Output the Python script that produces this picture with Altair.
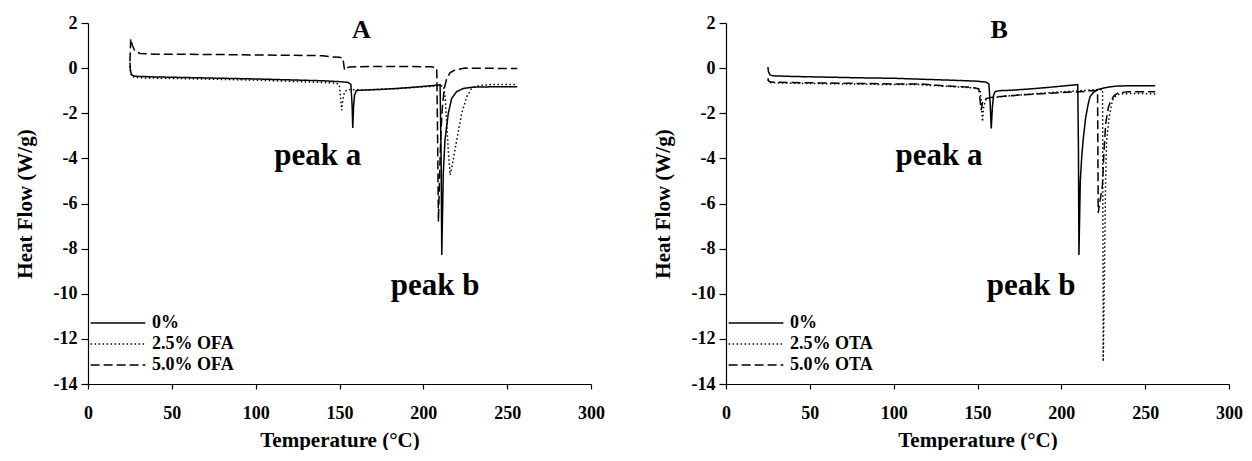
import altair as alt
import pandas as pd

FONT = "Liberation Serif"

# ---------------- Panel A (OFA) ----------------
a_names = ["0%", "2.5% OFA", "5.0% OFA"]

a0_t = [25.0, 25.3, 26.0, 28.0, 40, 60, 80, 100, 120, 140, 150, 155, 156.8, 157.5, 157.9, 158.4,
        159.0, 160.0, 162, 166, 175, 185, 195, 205, 210.0, 210.6, 211.0, 211.9, 212.9, 214.9,
        216.9, 219.9, 223.9, 230, 240, 256]
a0_hf = [0.25, -0.1, -0.3, -0.36, -0.39, -0.42, -0.45, -0.48, -0.52, -0.56, -0.6, -0.63, -0.72, -1.6, -2.65, -1.7,
         -1.2, -1.0, -0.98, -0.97, -0.94, -0.9, -0.84, -0.78, -0.74, -4.0, -8.28, -4.66, -3.19, -2.0,
         -1.34, -1.04, -0.9, -0.84, -0.83, -0.82]

a1_t = [25.0, 25.4, 26.2, 30, 60, 100, 134, 148, 149.9, 150.6, 151.3, 152.0, 153.0, 155, 165, 185, 200,
        210, 212, 213, 214, 215, 216, 217.5, 219.9, 222.9, 225.9, 228.8, 233, 240, 256]
a1_hf = [0.1, -0.2, -0.38, -0.43, -0.47, -0.53, -0.62, -0.66, -0.75, -1.3, -1.86, -1.4, -1.05, -0.95, -0.97, -0.9, -0.83,
         -0.78, -0.8, -1.3, -2.5, -3.8, -4.74, -4.2, -3.19, -2.0, -1.27, -0.9, -0.78, -0.73, -0.72]

a2_t = [25.0, 25.5, 26.5, 28, 31, 40, 80, 120, 140, 145, 150, 152, 153, 154, 156, 170, 190, 205,
        208.0, 208.5, 209.0, 209.8, 210.5, 211.5, 212.5, 214, 216, 219, 225, 256]
a2_hf = [0.3, 1.3, 1.0, 0.75, 0.65, 0.62, 0.6, 0.57, 0.55, 0.5, 0.48, 0.45, -0.08, 0.0, 0.05, 0.07, 0.07, 0.06,
         0.0, -3.0, -6.8, -4.5, -2.8, -1.6, -0.9, -0.45, -0.2, -0.08, 0.0, -0.02]

# ---------------- Panel B (OTA) ----------------
b_names = ["0%", "2.5% OTA", "5.0% OTA"]

b0_t = [25.0, 25.3, 26.2, 28, 40, 60, 80, 100, 120, 140, 150, 155, 156.8, 157.5, 158.2, 158.9, 159.6,
        160.5, 163, 170, 180, 190, 200, 209.8, 210.2, 210.5, 211.3, 212.2, 213, 214.5, 216, 217.1,
        219, 222, 228, 234, 245, 256]
b0_hf = [0.05, -0.15, -0.3, -0.34, -0.37, -0.4, -0.43, -0.45, -0.5, -0.55, -0.58, -0.62, -0.7, -1.5, -2.67, -1.7, -1.2,
         -1.04, -1.0, -0.98, -0.93, -0.87, -0.8, -0.73, -3.5, -8.28, -5.0, -3.9, -3.19, -2.2, -1.6, -1.27,
         -1.08, -0.94, -0.84, -0.79, -0.78, -0.78]

b1_t = [25.0, 25.5, 27, 40, 60, 80, 100, 115, 130, 140, 148, 151.5, 152.3, 153.0, 153.7, 155, 157, 160,
        170, 185, 200, 215, 224.6, 225.0, 225.8, 226.4, 227.0, 228.5, 230, 231, 233, 235, 245, 256]
b1_hf = [-0.5, -0.62, -0.65, -0.67, -0.69, -0.71, -0.73, -0.73, -0.8, -0.84, -0.88, -0.95, -1.5, -2.37, -1.7, -1.4, -1.33, -1.3,
         -1.22, -1.13, -1.05, -0.98, -0.95, -13.0, -8.5, -5.0, -3.2, -2.2, -1.6, -1.33, -1.2, -1.14, -1.12, -1.15]

b2_t = [25.0, 25.5, 27, 40, 60, 80, 100, 115, 130, 140, 148, 150.8, 151.5, 152.2, 152.9, 154, 156, 160,
        170, 185, 200, 214, 218, 221.6, 222.0, 224.5, 225.5, 226.5, 228, 229.5, 231.5, 234, 240, 256]
b2_hf = [-0.45, -0.58, -0.62, -0.64, -0.66, -0.68, -0.7, -0.7, -0.78, -0.82, -0.87, -0.92, -1.4, -1.86, -1.55, -1.4, -1.33, -1.28,
         -1.22, -1.15, -1.08, -1.04, -1.0, -0.98, -6.42, -5.2, -3.6, -2.43, -1.75, -1.45, -1.22, -1.09, -1.05, -1.05]

# annotations (data coordinates)
a_letter = {"text": ["A"], "T": [163], "HF": [1.68]}
b_letter = {"text": ["B"], "T": [163], "HF": [1.68]}
a_peaks = {"text": ["peak a", "peak b"], "T": [137, 207], "HF": [-4.29, -10.07]}
b_peaks = {"text": ["peak a", "peak b"], "T": [127, 182], "HF": [-4.29, -10.07]}

x_ticks = [0, 50, 100, 150, 200, 250, 300]
y_ticks = [-14, -12, -10, -8, -6, -4, -2, 0, 2]
dash_range = [[1, 0], [1.5, 2.5], [9, 4]]


def frame(names, ts, hfs):
    rows = []
    for name, t, h in zip(names, ts, hfs):
        for i, (x, y) in enumerate(zip(t, h)):
            rows.append({"series": name, "T": x, "HF": y, "idx": i})
    return pd.DataFrame(rows)


def panel(df, names, letter, peaks):
    lines = alt.Chart(df).mark_line(color="black", strokeWidth=1.5).encode(
        x=alt.X("T:Q", scale=alt.Scale(domain=[0, 300], nice=False, zero=False),
                axis=alt.Axis(values=x_ticks, title="Temperature (°C)", tickSize=5,
                              labelPadding=15, titlePadding=7, labelFlush=False)),
        y=alt.Y("HF:Q", scale=alt.Scale(domain=[-14, 2], nice=False, zero=False),
                axis=alt.Axis(values=y_ticks, title="Heat Flow (W/g)", tickSize=7,
                              labelPadding=4, titlePadding=18, labelExpr="'' + datum.value")),
        strokeDash=alt.StrokeDash(
            "series:N",
            scale=alt.Scale(domain=names, range=dash_range),
            legend=alt.Legend(title=None, orient="none", legendX=2, legendY=291,
                              symbolType="M-10,0H10", symbolSize=30, symbolStrokeWidth=1.5,
                              symbolOffset=19, symbolStrokeColor="black",
                              labelFont=FONT, labelFontWeight="bold",
                              labelFontSize=18, labelColor="black", labelOffset=25, rowPadding=3),
        ),
        order="idx:Q",
    )
    let = alt.Chart(pd.DataFrame(letter)).mark_text(
        font=FONT, fontWeight="bold", fontSize=26, color="black", baseline="middle", align="center"
    ).encode(x="T:Q", y="HF:Q", text="text:N")
    pk = alt.Chart(pd.DataFrame(peaks)).mark_text(
        font=FONT, fontWeight="bold", fontSize=31, color="black", baseline="alphabetic", align="center"
    ).encode(x="T:Q", y="HF:Q", text="text:N")
    return alt.layer(lines, let, pk).properties(width=503, height=361)


dfA = frame(a_names, [a0_t, a1_t, a2_t], [a0_hf, a1_hf, a2_hf])
dfB = frame(b_names, [b0_t, b1_t, b2_t], [b0_hf, b1_hf, b2_hf])

chart = (
    alt.hconcat(panel(dfA, a_names, a_letter, a_peaks), panel(dfB, b_names, b_letter, b_peaks), spacing=47)
    .resolve_scale(strokeDash="independent")
    .properties(padding={"left": 6, "top": 6, "right": 0, "bottom": 0})
    .configure_view(stroke=None)
    .configure_axis(
        grid=False, domainColor="black", tickColor="black", domainWidth=1.2, tickWidth=1.2,
        labelFont=FONT, labelFontWeight="bold", labelFontSize=18, labelColor="black",
        titleFont=FONT, titleFontWeight="bold", titleFontSize=21, titleColor="black",
    )
)

chart.save("out.html", embed_options={"renderer": "svg", "actions": False})
